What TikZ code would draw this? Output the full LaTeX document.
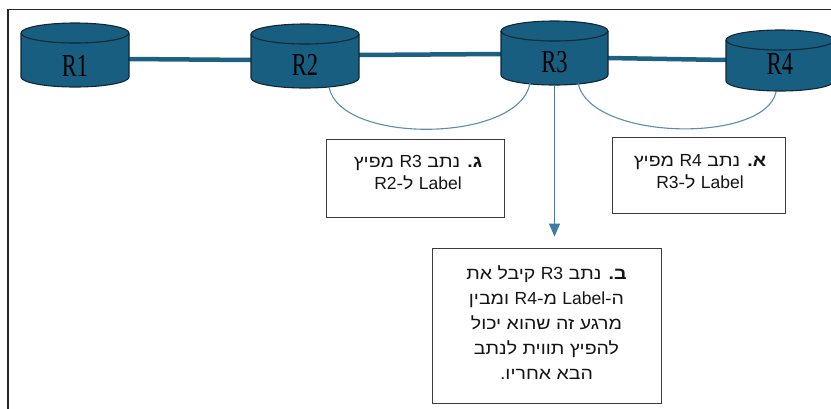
\documentclass[tikz,border=0pt]{standalone}
\usepackage{fontspec}
\usetikzlibrary{arrows.meta}
\TeXXeTstate=1
\newfontfamily\hebfont[Script=Hebrew,FakeStretch=1.15]{Liberation Sans}
\newfontfamily\latfont{Liberation Sans}
\newfontfamily\cylfont{Liberation Serif}
\newcommand{\lat}[1]{\beginL{\latfont\fontsize{17.5}{22}\selectfont #1}\endL}
\definecolor{cylblue}{RGB}{24,94,128}
\definecolor{cyledge}{RGB}{14,40,56}
\definecolor{linkblue}{RGB}{28,96,130}
\definecolor{hookblue}{RGB}{88,142,176}
\definecolor{arrowblue}{RGB}{62,124,162}
\definecolor{boxgray}{RGB}{60,60,60}
\definecolor{txtgray}{RGB}{20,20,20}

\begin{document}
\begin{tikzpicture}[x=1pt,y=-1pt,
  frame/.style={draw=black!85,line width=1.2pt},
  routerbox/.style={inner sep=0pt,outer sep=0pt,minimum width=#1,minimum height=0pt},
  cylbody/.style={fill=cylblue,draw=cyledge,line width=1.1pt},
  cylname/.style={font=\cylfont\fontsize{32}{32}\selectfont,text=black,inner sep=0pt},
  link/.style={draw=linkblue,line width=4.5pt},
  hook/.style={draw=hookblue,line width=1.1pt},
  pointer/.style={draw=arrowblue,line width=1.3pt,-{Triangle[width=11pt,length=13pt]}},
  notebox/.style={draw=boxgray,line width=0.9pt,fill=white,inner sep=0pt},
  notetext/.style={font=\hebfont\fontsize{17}{22}\selectfont,text=txtgray,align=center,inner sep=0pt},
]
\clip (0,0) rectangle (831,408);
\useasboundingbox (0,0) rectangle (831,408);
\fill[white] (0,0) rectangle (831,408);

% outer frame (top and left edges visible)
\draw[frame] (8,420) -- (8,9.5) -- (840,9.5);

% router anchors: one invisible node per cylinder, spanning its width at body centre
\foreach \n/\l/\r/\t/\b in {R1/21/129/23/87, R2/251/359/24/88, R3/501/608/21/85, R4/726/834/30/91}{
  \node[routerbox={(\r-\l)*1pt},minimum height={(\b-\t)*1pt}] (\n) at ({(\l+\r)/2},{(\t+\b)/2}) {};
}

% trunk links between routers
\draw[link] ([yshift=-4pt]R1.east) -- ([yshift=-4pt]R2.west);
\draw[link] ([yshift=1pt]R2.east) -- ([yshift=-1pt]R3.west);
\draw[link] ([yshift=-5pt]R3.east) -- ([yshift=0.5pt]R4.west);

% cylinders
\foreach \n/\l/\r/\t/\b/\ty in {R1/21/129/23/87/66, R2/251/359/24/88/65, R3/501/608/21/85/62, R4/726/834/30/91/64}{
  \pgfmathsetmacro\rx{(\r-\l)/2}
  \path[cylbody] (\l,\t+10) -- (\l,\b-10)
     arc[start angle=180,end angle=0,x radius=\rx,y radius=10]
     -- (\r,\t+10)
     arc[start angle=0,end angle=-180,x radius=\rx,y radius=10] -- cycle;
  \draw[cyledge,line width=1.1pt] (\l,\t+10) arc[start angle=180,end angle=0,x radius=\rx,y radius=10];
  \node[cylname] (\n-name) at ({(\l+\r)/2},\ty) {\scalebox{0.7}[1]{\n}};
}

% label-exchange hooks under the routers
\draw[hook] ([xshift=24pt,yshift=1pt]R2.south) .. controls +(11,58) and +(-10,60) .. ([xshift=-24.5pt,yshift=2pt]R3.south);
\draw[hook] ([xshift=23.5pt,yshift=2pt]R3.south) .. controls +(12,58) and +(-11,52) .. ([xshift=-4pt,yshift=-1pt]R4.south);

% note boxes
\node[notebox,minimum width=178pt,minimum height=78pt] (noteG) at (415,178) {};
\node[notetext] (textG) at (418,172.5) {%
  \beginR\textbf{ג.} נתב \lat{R3} מפיץ\endR\\
  \beginR\lat{Label} ל-\lat{R2}\endR};

\node[notebox,minimum width=173pt,minimum height=76pt] (noteA) at (698.5,175) {};
\node[notetext] (textA) at (700,171.5) {%
  \beginR\textbf{א.} נתב \lat{R4} מפיץ\endR\\
  \beginR\lat{Label} ל-\lat{R3}\endR};

\node[notebox,minimum width=229pt,minimum height=155pt] (noteB) at (546.5,325.5) {};
\node[notetext,font=\hebfont\fontsize{17}{25}\selectfont] (textB) at (546.5,322.5) {%
  \beginR\textbf{ב.} נתב \lat{R3} קיבל את\endR\\
  \beginR ה-\lat{Label} מ-\lat{R4} ומבין\endR\\
  \beginR מרגע זה שהוא יכול\endR\\
  \beginR להפיץ תווית לנתב\endR\\
  \beginR הבא אחריו.\endR};

% R3 announces downstream
\draw[pointer,shorten >=11pt] (R3.south) -- (R3.south |- noteB.north);
\end{tikzpicture}
\end{document}
